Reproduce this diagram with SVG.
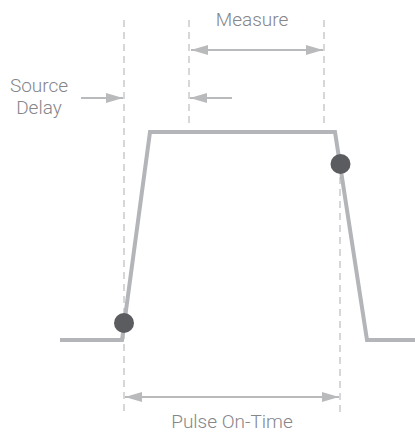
<svg xmlns="http://www.w3.org/2000/svg" width="415" height="432" viewBox="0 0 415 432">
<style>
.dash{stroke:#c9cacc;stroke-width:1.5;stroke-dasharray:7 5;fill:none}
.dim{stroke:#b9babc;stroke-width:2;fill:none}
.wave{stroke:#b3b5b8;stroke-width:4;fill:none;stroke-linejoin:miter}
.dot{fill:#5b5c60}
text{font-family:Roboto,"Liberation Sans",Arial,sans-serif;font-weight:300;font-size:19px;fill:#85868a}
</style>
<defs>
<marker id="ah" viewBox="0 0 17 10" refX="17" refY="5" markerWidth="17" markerHeight="10" markerUnits="userSpaceOnUse" orient="auto-start-reverse">
<path d="M0,0 L17,5 L0,10 Z" fill="#b9babc"/>
</marker>
</defs>
<g id="guides">
<line class="dash" x1="124" y1="20" x2="124" y2="414"/>
<line class="dash" x1="189" y1="20" x2="189" y2="124"/>
<line class="dash" x1="324" y1="20" x2="324" y2="124"/>
<line class="dash" x1="340" y1="165" x2="340" y2="414"/>
</g>
<g id="waveform">
<polyline class="wave" points="60,340 122,340 150,132 335,132 367,340 415,340"/>
</g>
<g id="connectors">
<line class="dim" x1="191" y1="50" x2="323" y2="50" marker-start="url(#ah)" marker-end="url(#ah)"/>
<line class="dim" x1="81" y1="98" x2="123" y2="98" marker-end="url(#ah)"/>
<line class="dim" x1="232" y1="98" x2="190" y2="98" marker-end="url(#ah)"/>
<line class="dim" x1="125" y1="397" x2="339" y2="397" marker-start="url(#ah)" marker-end="url(#ah)"/>
</g>
<g id="dot-start"><circle class="dot" cx="124" cy="323" r="10"/></g>
<g id="dot-end"><circle class="dot" cx="340.5" cy="164" r="10"/></g>
<g id="label-measure"><text x="252" y="26" text-anchor="middle">Measure</text></g>
<g id="label-source-delay">
<text x="39" y="92" text-anchor="middle">Source</text>
<text x="39" y="114" text-anchor="middle">Delay</text>
</g>
<g id="label-pulse"><text x="232" y="428" text-anchor="middle">Pulse On-Time</text></g>
</svg>
